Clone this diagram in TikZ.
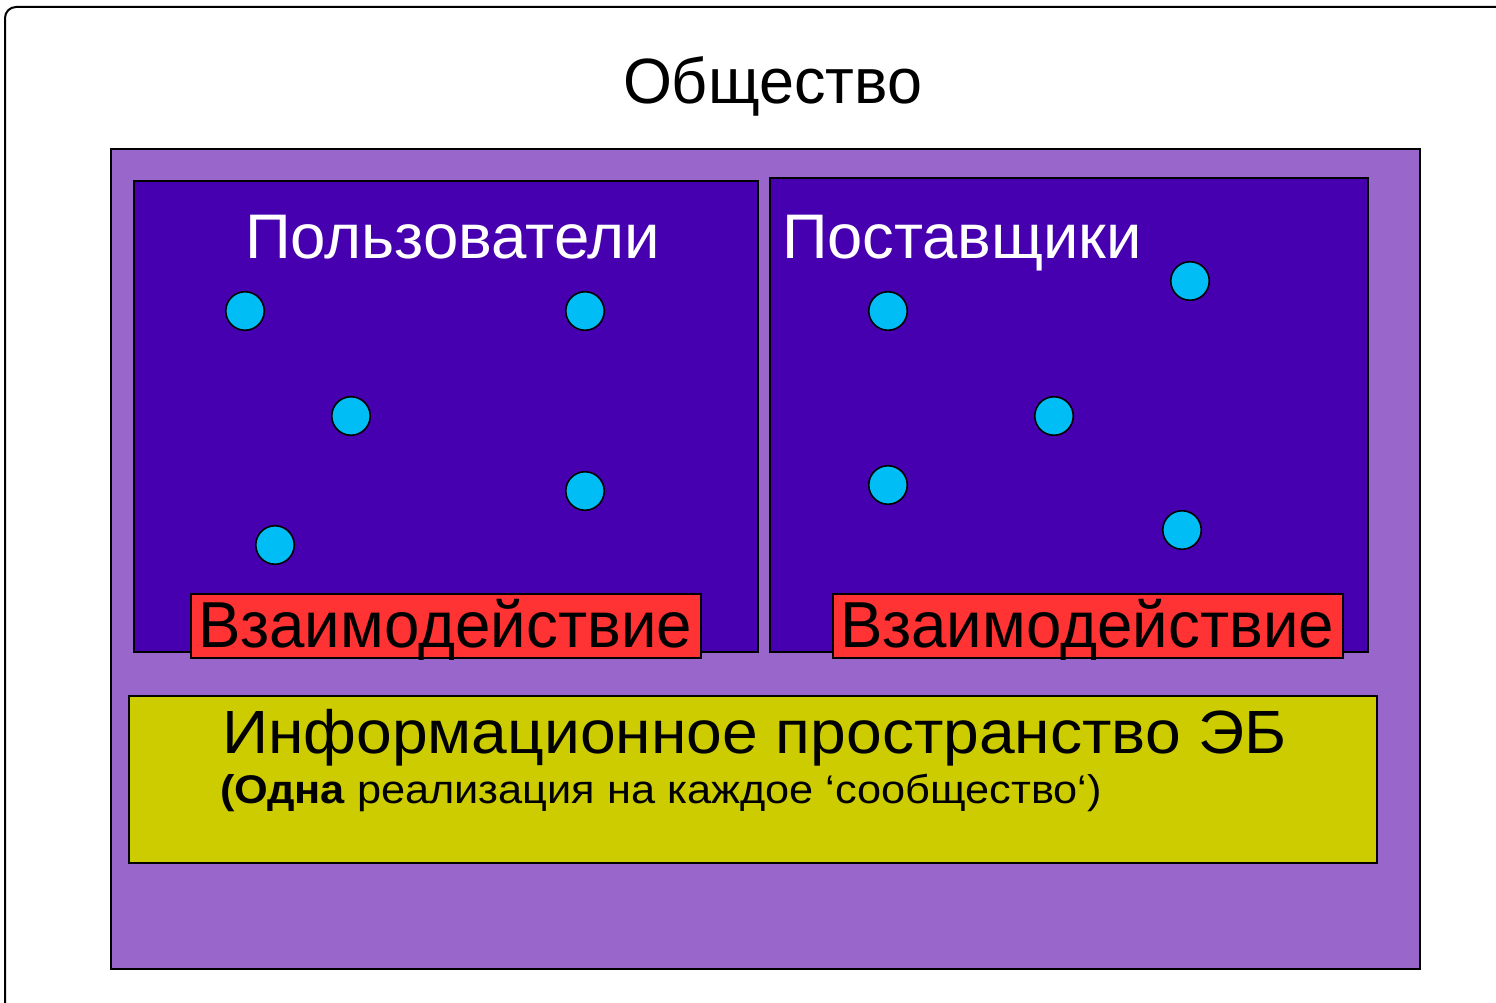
\documentclass[tikz,border=0pt]{standalone}
\usepackage{fontspec}
\setmainfont{Liberation Sans}
\usepackage{graphicx}
\definecolor{socpurple}{RGB}{153,102,204}
\definecolor{grpblue}{RGB}{70,0,175}
\definecolor{dotcyan}{RGB}{0,190,245}
\definecolor{actred}{RGB}{255,51,51}
\definecolor{infoyel}{RGB}{204,204,0}
\newcommand\fitw[3]{\resizebox{#1}{\height}{\fontsize{#2}{#2}\selectfont #3}}
\begin{document}
\begin{tikzpicture}[x=1pt,y=-1pt,
  boxst/.style={draw=black, line width=#1, rectangle, anchor=north west, inner sep=0pt, outer sep=0pt},
  boxst/.default=1.5pt,
  dot/.style={circle, draw=black, line width=1.6pt, fill=dotcyan, minimum size=38.5pt, inner sep=0pt},
  lbl/.style={anchor=base west, inner sep=0pt, outer sep=0pt}]
\useasboundingbox (0,0) rectangle (1496,1003);
\begin{scope}
\clip (0,0) rectangle (1496,1003);
\node[boxst=2pt, rounded corners=11pt, minimum width=1540pt, minimum height=1040pt] (frame) at (5,7) {};
\end{scope}
\node[lbl] (title) at (623,104) {\fitw{299pt}{64pt}{Общество}};
\node[boxst=2.5pt, fill=socpurple, minimum width=1309pt, minimum height=820pt] (soc) at (111,149) {};
\node[boxst, fill=grpblue, minimum width=624pt, minimum height=471pt] (users) at (134,181) {};
\node[boxst, fill=grpblue, minimum width=598pt, minimum height=474pt] (supp) at (770,178) {};
\node[lbl, text=white] (userst) at (245,258) {\fitw{415pt}{63pt}{Пользователи}};
\node[lbl, text=white] (suppt) at (782,258) {\fitw{360pt}{63pt}{Поставщики}};
\node[dot] (u1) at (245,311) {};
\node[dot] (u2) at (585,311) {};
\node[dot] (u3) at (351,416) {};
\node[dot] (u4) at (585,491) {};
\node[dot] (u5) at (275,545) {};
\node[dot] (s1) at (888,311) {};
\node[dot] (s2) at (1190,281) {};
\node[dot] (s3) at (1054,416) {};
\node[dot] (s4) at (888,485) {};
\node[dot] (s5) at (1182,530) {};
\node[boxst, fill=actred, minimum width=510pt, minimum height=64pt] (act1) at (191,594) {};
\node[boxst, fill=actred, minimum width=510pt, minimum height=64pt] (act2) at (833,594) {};
\node[lbl] (act1t) at (198,647) {\fitw{494pt}{65pt}{Взаимодействие}};
\node[lbl] (act2t) at (840,647) {\fitw{494pt}{65pt}{Взаимодействие}};
\node[boxst, fill=infoyel, minimum width=1248pt, minimum height=167pt] (info) at (129,696) {};
\node[lbl] (infot) at (222,753) {\fitw{1065pt}{61pt}{Информационное пространство ЭБ}};
\node[lbl] (infos) at (220,803) {\fitw{882pt}{40pt}{\textbf{(Одна} реализация на каждое ‘сообщество‘)}};
\end{tikzpicture}
\end{document}
